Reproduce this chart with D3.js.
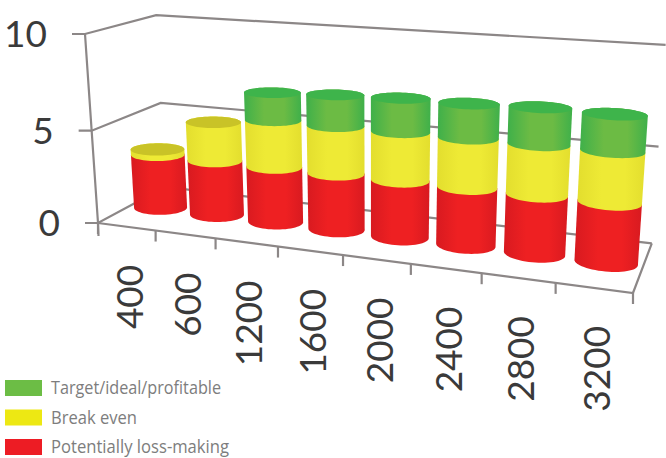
<!DOCTYPE html>
<html>
<head>
<meta charset="utf-8">
<script src="https://cdn.jsdelivr.net/npm/d3@7"></script>
<style>
html,body{margin:0;padding:0;background:#fff}
svg{display:block}
</style>
</head>
<body>
<svg id="chart" width="666" height="458"></svg>
<script>
// Chart data
const categories = ["400","600","1200","1600","2000","2400","2800","3200"];
const lossMaking = [3,3,3,3,3,3,3,3];
const breakEven = [0.3,2.1,2.5,2.5,2.5,2.5,2.5,2.5];
const profitable = [0,0,1.45,1.6,1.7,1.7,1.8,1.75];
const valueTicks = [0,5,10];
const legendLabels = ["Target/ideal/profitable","Break even","Potentially loss-making"];
const legendColors = ["#6cbd45","#ede813","#ed1c24"];

const seriesStack = [
  {values: lossMaking, id:"red", edge:"#d81a20", mid:"#ee2022", cap:"#ed1c24"},
  {values: breakEven, id:"yellow", edge:"#e3de2e", mid:"#eeea35", cap:"#c9c327"},
  {values: profitable, id:"green", edge:"#3fb04a", mid:"#6cbb44", cap:"#3eb44b"}
];

// Perspective camera for the unit box: t along categories, v up the value axis, d into depth
const A=[98,223], B=[633,293], C=[165,187], E=[85,34];
const wa=0.845, wb=0.955, wc=1.105;
function project(t,v,d){
  const w=1+(wa-1)*t+(wb-1)*v+(wc-1)*d;
  return [0,1].map(k=>(A[k]+t*(wa*B[k]-A[k])+v*(wb*E[k]-A[k])+d*(wc*C[k]-A[k]))/w);
}

const tScale=d3.scaleBand().domain(categories).range([0,1]);
const vScale=d3.scaleLinear().domain([0,10]).range([0,1]);
const svg=d3.select("#chart");
const line=d3.line();
const axisColor="#8c8787";

// Gradients give the cylinder sides their rounded look
const defs=svg.append("defs");
seriesStack.forEach(s=>{
  const g=defs.append("linearGradient").attr("id","side-"+s.id);
  [[0,s.edge],[0.35,s.mid],[0.7,s.mid],[1,s.edge]].forEach(([o,c])=>g.append("stop").attr("offset",o).attr("stop-color",c));
});

// Walls and value ticks
const walls=svg.append("g").attr("fill","none").attr("stroke",axisColor).attr("stroke-width",2.2);
valueTicks.forEach(val=>{
  const v=vScale(val);
  const p0=project(0,v,0);
  walls.append("path").attr("d",line([[p0[0]-13,p0[1]],p0,project(0,v,1),project(1,v,1)]));
});
walls.append("path").attr("d",line([project(0,1,0),project(0,0,0),[project(0,0,0)[0]+0.5,project(0,0,0)[1]+13]]));
walls.append("path").attr("d",line([project(0,0,0),project(1,0,0),project(1,0,1)]));

// Category ticks along the front edge of the floor
const tickPositions=categories.map(c=>tScale(c)).concat([1]);
tickPositions.forEach(t=>{
  const p=project(t,0,0);
  walls.append("path").attr("d",line([p,[p[0],p[1]+11]]));
});

// Cylinders: each stack segment is the hull of its projected bottom and top rings
const rT=tScale.bandwidth()*0.43, rD=0.18, dCenter=0.5;
const angles=d3.range(0,360,6).map(a=>a*Math.PI/180);
function ring(cat,val){
  const tc=tScale(cat)+tScale.bandwidth()/2, v=vScale(val);
  return angles.map(a=>project(tc+rT*Math.cos(a),v,dCenter+rD*Math.sin(a)));
}
const closed=pts=>line(pts)+"Z";
const bars=svg.append("g");
categories.forEach((cat,i)=>{
  let base=0;
  let top=null;
  seriesStack.forEach(s=>{
    const h=s.values[i];
    if(h<=0) return;
    const hull=d3.polygonHull(ring(cat,base).concat(ring(cat,base+h)));
    bars.append("path").attr("d",closed(hull)).attr("fill",`url(#side-${s.id})`);
    base+=h; top=s;
  });
  bars.append("path").attr("d",closed(ring(cat,base))).attr("fill",top.cap);
});

// Axis labels
const labelFont="Lato, sans-serif";
valueTicks.forEach(val=>{
  const p=project(0,vScale(val),0);
  svg.append("text").attr("x",p[0]-38).attr("y",p[1]+13).attr("text-anchor","end")
    .attr("font-family",labelFont).attr("font-size",37).attr("fill","#3a3a3a").text(val);
});
categories.forEach(cat=>{
  const p=project(tScale(cat)+tScale.bandwidth()/2,0,0);
  svg.append("text").attr("transform",`translate(${p[0]+16},${p[1]+38}) rotate(-90)`)
    .attr("text-anchor","end").attr("font-family",labelFont).attr("font-size",37).attr("fill","#3a3a3a").text(cat);
});

// Legend
const legend=svg.append("g");
const legendY=d3.scalePoint().domain(legendLabels).range([380,439]);
legendLabels.forEach((label,i)=>{
  legend.append("rect").attr("x",5).attr("y",legendY(label)).attr("width",37).attr("height",16).attr("fill",legendColors[i]);
  legend.append("text").attr("x",51).attr("y",legendY(label)+14).attr("font-family","'Open Sans', sans-serif")
    .attr("font-size",18).attr("textLength",i==1?86:(i==0?170:178)).attr("lengthAdjust","spacingAndGlyphs").attr("fill","#7d7d7d").text(label);
});
</script>
</body>
</html>
